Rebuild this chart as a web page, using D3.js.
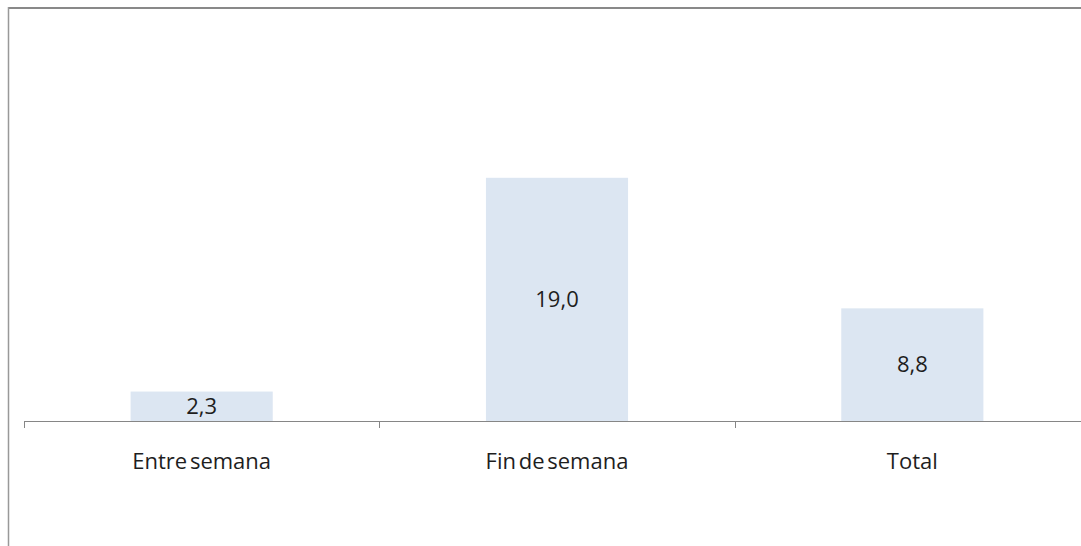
<!DOCTYPE html>
<html>
<head>
<meta charset="utf-8">
<script src="https://cdn.jsdelivr.net/npm/d3@7/dist/d3.min.js"></script>
<style>
  html, body { margin: 0; padding: 0; background: #fff; }
  svg { display: block; }
  text { font-family: "Open Sans", sans-serif; fill: #1e1e1e; }
</style>
</head>
<body>
<script>
// chart data
const categories = ["Entre semana", "Fin de semana", "Total"];
const values = [2.3, 19.0, 8.8];
const valueLabels = ["2,3", "19,0", "8,8"];

const width = 1081, height = 546;
const baseY = 421;

const svg = d3.select("body").append("svg")
    .attr("width", width)
    .attr("height", height);

// frame (top + left edges only visible)
svg.append("line")
    .attr("x1", 8).attr("x2", width).attr("y1", 8).attr("y2", 8)
    .attr("stroke", "#898989").attr("stroke-width", 2);
svg.append("line")
    .attr("x1", 8.5).attr("x2", 8.5).attr("y1", 7).attr("y2", height)
    .attr("stroke", "#999").attr("stroke-width", 1.5);

const x = d3.scaleBand()
    .domain(categories)
    .range([24, 1090])
    .paddingInner(0.6)
    .paddingOuter(0.3);

const y = d3.scaleLinear()
    .domain([0, 25])
    .range([baseY, baseY - 25 * 12.8]);

// bars
const bars = svg.append("g").attr("class", "bars");
bars.selectAll("rect")
    .data(values)
    .join("rect")
    .attr("x", (d, i) => x(categories[i]))
    .attr("y", d => y(d))
    .attr("width", x.bandwidth())
    .attr("height", d => y(0) - y(d))
    .attr("fill", "#dce6f2");

// value labels, centred in the bar
bars.selectAll("text")
    .data(values)
    .join("text")
    .attr("x", (d, i) => x(categories[i]) + x.bandwidth() / 2)
    .attr("y", d => (y(d) + y(0)) / 2 + 7.5)
    .attr("text-anchor", "middle")
    .style("font-size", "22px")
    .text((d, i) => valueLabels[i]);

// category axis
const axis = svg.append("g").attr("class", "axis");
const step = x.step();
axis.append("line")
    .attr("x1", 24).attr("x2", width)
    .attr("y1", baseY + 0.5).attr("y2", baseY + 0.5)
    .attr("stroke", "#868686");
const tickXs = categories.map(c => x(c) - step * x.paddingInner() / 2);
axis.selectAll("line.tick")
    .data(tickXs)
    .join("line")
    .attr("class", "tick")
    .attr("x1", d => Math.round(d) + 0.5).attr("x2", d => Math.round(d) + 0.5)
    .attr("y1", baseY).attr("y2", baseY + 7)
    .attr("stroke", "#868686");

axis.selectAll("text")
    .data(categories)
    .join("text")
    .attr("x", d => x(d) + x.bandwidth() / 2)
    .attr("y", 469)
    .attr("text-anchor", "middle")
    .style("font-size", "22px")
    .style("word-spacing", "-3px")
    .text(d => d);
</script>
</body>
</html>
